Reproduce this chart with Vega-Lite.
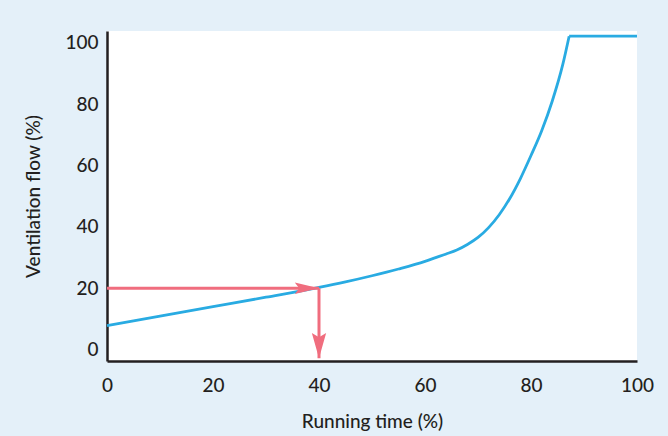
{
  "$schema": "https://vega.github.io/schema/vega-lite/v6.json",
  "width": 530,
  "height": 330,
  "autosize": {"type": "none"},
  "padding": {"left": 107, "top": 31, "right": 31, "bottom": 75},
  "background": "#e4f0f9",
  "config": {
    "view": {"fill": "white", "stroke": null},
    "font": "Lato"
  },
  "datasets": {
    "curve": [
      {"phase": "rise", "time": 0, "flow": 7.8},
      {"phase": "rise", "time": 10, "flow": 10.9},
      {"phase": "rise", "time": 20, "flow": 14.0},
      {"phase": "rise", "time": 30, "flow": 17.1},
      {"phase": "rise", "time": 40, "flow": 20.3},
      {"phase": "rise", "time": 45, "flow": 22.1},
      {"phase": "rise", "time": 50, "flow": 24.1},
      {"phase": "rise", "time": 55, "flow": 26.3},
      {"phase": "rise", "time": 60, "flow": 28.8},
      {"phase": "rise", "time": 62, "flow": 30.0},
      {"phase": "rise", "time": 64, "flow": 31.2},
      {"phase": "rise", "time": 66, "flow": 32.5},
      {"phase": "rise", "time": 68, "flow": 34.3},
      {"phase": "rise", "time": 70, "flow": 36.6},
      {"phase": "rise", "time": 72, "flow": 39.8},
      {"phase": "rise", "time": 74, "flow": 44.0},
      {"phase": "rise", "time": 76, "flow": 49.3},
      {"phase": "rise", "time": 78, "flow": 55.8},
      {"phase": "rise", "time": 80, "flow": 63.3},
      {"phase": "rise", "time": 82, "flow": 71.3},
      {"phase": "rise", "time": 84, "flow": 81.0},
      {"phase": "rise", "time": 86, "flow": 93.0},
      {"phase": "rise", "time": 87.2, "flow": 102.2},
      {"phase": "plateau", "time": 87.2, "flow": 102.2},
      {"phase": "plateau", "time": 100, "flow": 102.2}
    ],
    "arrows": [
      {"time": 0, "flow": 20, "time2": 40, "flow2": 20},
      {"time": 40, "flow": 20, "time2": 40, "flow2": -2.8}
    ],
    "heads": [
      {"time": 40, "flow": 20, "dir": "right"},
      {"time": 40, "flow": -2.8, "dir": "down"}
    ]
  },
  "encoding": {
    "x": {
      "field": "time",
      "type": "quantitative",
      "scale": {"domain": [0, 100], "nice": false, "zero": false},
      "axis": {
        "title": "Running time (%)",
        "values": [0, 20, 40, 60, 80, 100],
        "grid": false,
        "ticks": false,
        "tickSize": 0,
        "domainColor": "#231f20",
        "domainWidth": 2.5,
        "labelFlush": false,
        "labelOverlap": false,
        "labelFontSize": 19,
        "labelFontWeight": 500,
        "labelColor": "#231f20",
        "labelPadding": 15,
        "titleFontSize": 19,
        "titleFontWeight": 500,
        "titleColor": "#231f20",
        "titleBaseline": "middle",
        "titleY": 60
      }
    },
    "y": {
      "field": "flow",
      "type": "quantitative",
      "scale": {"domain": [-3.7, 103.9], "nice": false, "zero": false},
      "axis": {
        "title": "Ventilation flow (%)",
        "values": [0, 20, 40, 60, 80, 100],
        "grid": false,
        "ticks": false,
        "tickSize": 0,
        "domainColor": "#231f20",
        "domainWidth": 2.5,
        "labelFlush": false,
        "labelOverlap": false,
        "labelFontSize": 19,
        "labelFontWeight": 500,
        "labelColor": "#231f20",
        "labelPadding": 9,
        "titleFontSize": 19,
        "titleFontWeight": 500,
        "titleColor": "#231f20",
        "titleBaseline": "middle",
        "titleX": -74
      }
    }
  },
  "layer": [
    {
      "data": {"name": "curve"},
      "mark": {"type": "line", "color": "#29abe2", "strokeWidth": 2.8, "interpolate": "monotone", "strokeJoin": "miter"},
      "encoding": {
        "detail": {"field": "phase", "type": "nominal"}
      }
    },
    {
      "data": {"name": "arrows"},
      "mark": {"type": "rule", "color": "#f06d7e", "strokeWidth": 3},
      "encoding": {
        "x2": {"field": "time2"},
        "y2": {"field": "flow2"}
      }
    },
    {
      "data": {"name": "heads"},
      "mark": {"type": "point", "filled": true, "color": "#f06d7e", "opacity": 1, "size": 121, "strokeWidth": 0},
      "encoding": {
        "shape": {
          "field": "dir",
          "type": "nominal",
          "scale": {
            "domain": ["right", "down"],
            "range": ["M0,0 L-4.4,-1.05 L-3.6,0 L-4.4,1.05 Z", "M0,0 L-1.3,-4.6 L0,-3.8 L1.3,-4.6 Z"]
          },
          "legend": null
        }
      }
    }
  ]
}
